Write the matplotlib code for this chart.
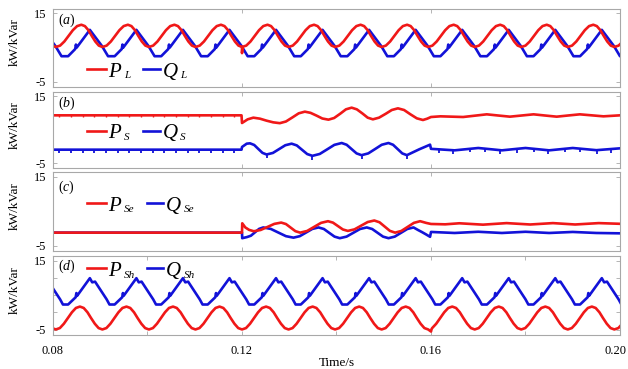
import numpy as np
import matplotlib
matplotlib.use('Agg')
import matplotlib.pyplot as plt

plt.rcParams['font.family'] = 'Liberation Serif'
plt.rcParams['mathtext.fontset'] = 'custom'
plt.rcParams['mathtext.rm'] = 'Liberation Serif'
plt.rcParams['mathtext.it'] = 'Liberation Serif:italic'

RED = '#f01818'
BLUE = '#1212d8'

# ---------------- data ----------------
# start of each 100 Hz cycle (trough of P_L), s
cycle_start = [0.07075, 0.0806, 0.09045, 0.1003, 0.11015, 0.1200, 0.12985,
               0.1397, 0.14955, 0.1594, 0.16925, 0.1791, 0.18895, 0.1988]

# (a) one cycle of P_L and Q_L: offset from cycle start (ms), value
PL_off = [0, 0.9, 1.8, 2.7, 3.6, 4.5, 5.4, 6.15, 6.9, 7.6, 8.35, 9.1]
PL_val = [5.2, 5.6, 6.8, 8.45, 10.1, 11.3, 11.7, 11.3, 10.1, 8.45, 6.8, 5.6]
QL_off = [1.2, 2.6, 4.1, 4.25, 4.4, 7.2, 9.75]
QL_val = [2.5, 2.5, 4.6, 5.9, 5.0, 10.2, 5.5]
PL_event_t = [0.1200, 0.12012]
PL_event_v = [3.4, 5.25]

# (d) one cycle of P_Sh and Q_Sh
PSh_off = [0, 0.85, 1.7, 2.55, 3.4, 4.25, 5.1, 5.9, 6.7, 7.45, 8.25, 9.05]
PSh_val = [-4.9, -4.5, -3.25, -1.6, 0.05, 1.3, 1.7, 1.3, 0.05, -1.6, -3.25, -4.5]
QSh_off = [0.9, 1.5, 2.6, 4.2, 4.35, 4.5, 7.2, 7.7, 8.3]
QSh_val = [3.8, 2.3, 2.3, 4.4, 5.6, 4.8, 9.9, 8.7, 8.9]
PSh_event_t = [0.1600, 0.16012]
PSh_event_v = [-5.5, -4.8]

# (b) P_S and Q_S
PS_t = [0.0800, 0.1199, 0.1200, 0.1212, 0.1224, 0.1238, 0.1252, 0.1266, 0.1280,
        0.1293, 0.1307, 0.1320, 0.1333, 0.1345, 0.1358, 0.1370, 0.1383,
        0.1395, 0.1408, 0.1420, 0.1432, 0.1443, 0.1455, 0.1466, 0.1477,
        0.1490, 0.1504, 0.1517, 0.1530, 0.1543, 0.1556, 0.1570, 0.1583,
        0.1592, 0.1600, 0.1620, 0.1668, 0.1693, 0.1718, 0.1742, 0.1767,
        0.1792, 0.1817, 0.1841, 0.1866, 0.1890, 0.1915, 0.1940, 0.1965, 0.2000]
PS_v = [9.3, 9.3, 7.0, 8.1, 8.6, 8.3, 7.7, 7.2, 6.95,
        7.45, 8.7, 9.9, 10.4, 10.05, 9.2, 8.35, 8.0,
        8.5, 9.8, 11.1, 11.6, 11.1, 9.85, 8.6, 8.1,
        8.6, 9.75, 10.9, 11.4, 10.9, 9.65, 8.4, 7.9,
        8.3, 8.8, 9.0, 8.8, 9.2, 9.6, 9.25, 8.9,
        9.25, 9.6, 9.25, 8.9, 9.25, 9.6, 9.3, 9.0, 9.3]
QS_t = [0.0800, 0.1199, 0.1200, 0.1210, 0.1217, 0.12258, 0.12345, 0.12433, 0.1252,
        0.12654, 0.12785, 0.12917, 0.1305, 0.1316, 0.1327, 0.1338, 0.1349,
        0.13645, 0.1380, 0.13955, 0.1411, 0.14215, 0.1432, 0.14425, 0.1453,
        0.14672, 0.14815, 0.14957, 0.1510, 0.15197, 0.15295, 0.15392, 0.1549,
        0.1575, 0.1598, 0.1600, 0.1650, 0.1700, 0.1750, 0.1800, 0.1850,
        0.1900, 0.1950, 0.2000]
QS_v = [-1.0, -1.0, -0.2, 0.8, 0.9, 0.41, -0.78, -1.96, -2.45,
        -1.98, -0.83, 0.33, 0.8, 0.27, -1.03, -2.32, -2.85,
        -2.29, -0.93, 0.44, 1.0, 0.47, -0.83, -2.12, -2.65,
        -2.12, -0.83, 0.47, 1.0, 0.47, -0.83, -2.12, -2.65,
        -0.9, 0.5, -0.75, -1.2, -0.5, -1.2, -0.5, -1.2,
        -0.5, -1.15, -0.6]
QS_spike_t = [0.0813, 0.0838, 0.0863, 0.0887, 0.0912, 0.0937, 0.0961, 0.0986,
              0.1011, 0.1035, 0.1060, 0.1085, 0.1109, 0.1134, 0.1159, 0.1183,
              0.1252, 0.1349, 0.1453, 0.1549,
              0.1616, 0.1647, 0.1683, 0.1714, 0.1746, 0.1781, 0.1817, 0.1848,
              0.1884, 0.1915, 0.1951, 0.1982]
QS_spike_base = [-1.0] * 16 + [-2.45, -2.85, -2.65, -2.65,
                               -0.89, -1.17, -0.74, -0.70, -1.14, -0.77, -0.74, -1.17,
                               -0.72, -0.70, -1.14, -0.80]

# (c) P_Se and Q_Se
PSe_t = [0.0800, 0.1200, 0.12005, 0.1207, 0.1215, 0.1225,
         0.12395, 0.1254, 0.12685, 0.1283, 0.1293, 0.1303, 0.1313, 0.1323,
         0.13378, 0.13525, 0.13673, 0.1382, 0.13925, 0.1403, 0.14135, 0.1424,
         0.1438, 0.1452, 0.1466, 0.1480, 0.1491, 0.1502, 0.1513, 0.1524,
         0.15372, 0.15505, 0.15638, 0.1577, 0.1590, 0.1600,
         0.1630, 0.1660, 0.1710, 0.1760, 0.1810, 0.1858, 0.1905, 0.1955, 0.2000]
PSe_v = [-1.2, -1.2, 1.5, 0.3, -0.4, -0.8,
         -0.43, 0.45, 1.33, 1.7, 1.28, 0.25, -0.78, -1.2,
         -0.72, 0.45, 1.62, 2.1, 1.69, 0.7, -0.29, -0.7,
         -0.26, 0.8, 1.86, 2.3, 1.79, 0.55, -0.69, -1.2,
         -0.72, 0.45, 1.62, 2.1, 1.6, 1.3,
         1.2, 1.5, 1.1, 1.55, 1.15, 1.55, 1.15, 1.55, 1.35]
QSe_t = [0.0800, 0.1200, 0.12005, 0.1210, 0.12188, 0.12275, 0.12363, 0.1245,
         0.1261, 0.1277, 0.1293, 0.1309, 0.13223, 0.13355, 0.13488, 0.1362,
         0.13733, 0.13845, 0.13958, 0.1407, 0.14213, 0.14355, 0.14498, 0.1464,
         0.14755, 0.1487, 0.14985, 0.1510, 0.15233, 0.15365, 0.15498, 0.1563,
         0.1572, 0.1581, 0.1590, 0.1598, 0.1600,
         0.1650, 0.1700, 0.1750, 0.1800, 0.1850, 0.1900, 0.1950, 0.2000]
QSe_v = [-1.2, -1.2, -2.8, -2.5, -2.09, -1.1, -0.11, 0.3,
         -0.13, -1.18, -2.22, -2.65, -2.22, -1.18, -0.13, 0.3,
         -0.15, -1.25, -2.35, -2.8, -2.35, -1.25, -0.15, 0.3,
         -0.15, -1.25, -2.35, -2.8, -2.35, -1.25, -0.15, 0.3,
         -0.4, -1.05, -1.75, -2.4, -1.0,
         -1.3, -0.95, -1.3, -0.95, -1.3, -1.0, -1.3, -1.4]

panel_letters = ['a', 'b', 'c', 'd']
subs = ['L', 'S', 'Se', 'Sh']
x_ticks = [0.08, 0.10, 0.12, 0.14, 0.16, 0.18, 0.20]
x_ticklabels = ['0.08', '', '0.12', '', '0.16', '', '']   # 0.20 placed by hand


def cycles(off, val, ev_t=(), ev_v=()):
    t = [c + o / 1000 for c in cycle_start for o in off]
    v = [y for c in cycle_start for y in val]
    t = np.array(t + list(ev_t))
    v = np.array(v + list(ev_v))
    idx = np.argsort(t, kind='stable')
    return t[idx], v[idx]


series = [
    (cycles(PL_off, PL_val, PL_event_t, PL_event_v), cycles(QL_off, QL_val)),
    ((np.array(PS_t), np.array(PS_v)), (np.array(QS_t), np.array(QS_v))),
    ((np.array(PSe_t), np.array(PSe_v)), (np.array(QSe_t), np.array(QSe_v))),
    (cycles(PSh_off, PSh_val, PSh_event_t, PSh_event_v), cycles(QSh_off, QSh_val)),
]

fig = plt.figure(figsize=(6.28, 3.69), dpi=100)
W, H = 628, 369
boxes = [(9, 87), (92, 168), (172, 251), (256, 335)]
leg_y = [0.227, 0.49, 0.61, 0.845]
tag_y = [0.86, 0.85, 0.81, 0.865]
q_handle = [(0.1587, 0.1887, 0.194), (0.1587, 0.1887, 0.194),
            (0.1658, 0.194, 0.1995), (0.1658, 0.194, 0.1995)]
lw = 1.9
gray = '#a8a8a8'

for i in range(4):
    top, bot = boxes[i]
    ax = fig.add_axes([53 / W, 1 - bot / H, 567 / W, (bot - top) / H])
    (tp, vp), (tq, vq) = series[i]
    ax.plot(tq, vq, color=BLUE, lw=lw)
    ax.plot(tp, vp, color=RED, lw=lw)
    if i == 1:
        base = np.array(QS_spike_base)
        ax.vlines(QS_spike_t, base - 1.1, base + 0.2, color=BLUE, lw=1.3)
        ax.vlines(QS_spike_t[:16], 9.3 - 0.6, 9.3, color=RED, lw=1.0)

    ax.set_xlim(0.08, 0.20)
    ax.set_ylim(-6.5, 16.3)
    if i == 3:
        ax.set_xticks(x_ticks)
        ax.set_xticklabels(x_ticklabels, fontsize=9)
        ax.annotate('0.20', xy=(1, 0), xycoords='axes fraction', xytext=(5, -7),
                    textcoords='offset points', ha='right', va='top', fontsize=9)
        ax.set_yticks([-5, 0, 5, 10, 15])
        ax.set_yticklabels(['-5', '', '', '', '15'], fontsize=9)
        ax.set_xlabel('Time/s', fontsize=9.5, labelpad=0)
    else:
        ax.set_xticks([0.08, 0.12, 0.16, 0.20])
        ax.set_xticklabels([])
        ax.set_yticks([-5, 15])
        ax.set_yticklabels(['-5', '15'], fontsize=9)
    ax.tick_params(direction='in', length=3, width=0.6, color=gray,
                   top=True, right=True, pad=5)
    ax.tick_params(axis='x', pad=7)
    for s in ax.spines.values():
        s.set_color(gray)
        s.set_linewidth(0.8)
    ax.set_ylabel('kW/kVar', fontsize=9.5)
    ax.yaxis.set_label_coords(-0.057, 0.57)

    ax.text(0.008, tag_y[i], r'($\mathit{%s}$)' % panel_letters[i],
            transform=ax.transAxes, fontsize=10, va='center')

    # hand-placed legend
    ly = leg_y[i]
    ax.plot([0.060, 0.094], [ly, ly], color=RED, lw=lw, transform=ax.transAxes)
    ax.text(0.097, ly - 0.10, 'P', transform=ax.transAxes, fontsize=15,
            va='baseline', style='italic')
    ax.annotate(subs[i], xy=(0.097, ly - 0.10), xycoords='axes fraction',
                xytext=(11.5, -1), textcoords='offset points', fontsize=8,
                va='baseline', style='italic')
    qa, qb, qt = q_handle[i]
    ax.plot([qa, qb], [ly, ly], color=BLUE, lw=lw, transform=ax.transAxes)
    ax.text(qt, ly - 0.10, 'Q', transform=ax.transAxes, fontsize=15,
            va='baseline', style='italic')
    ax.annotate(subs[i], xy=(qt, ly - 0.10), xycoords='axes fraction',
                xytext=(12.5, -1), textcoords='offset points', fontsize=8,
                va='baseline', style='italic')

fig.savefig('out.png', dpi=100, facecolor='white')
